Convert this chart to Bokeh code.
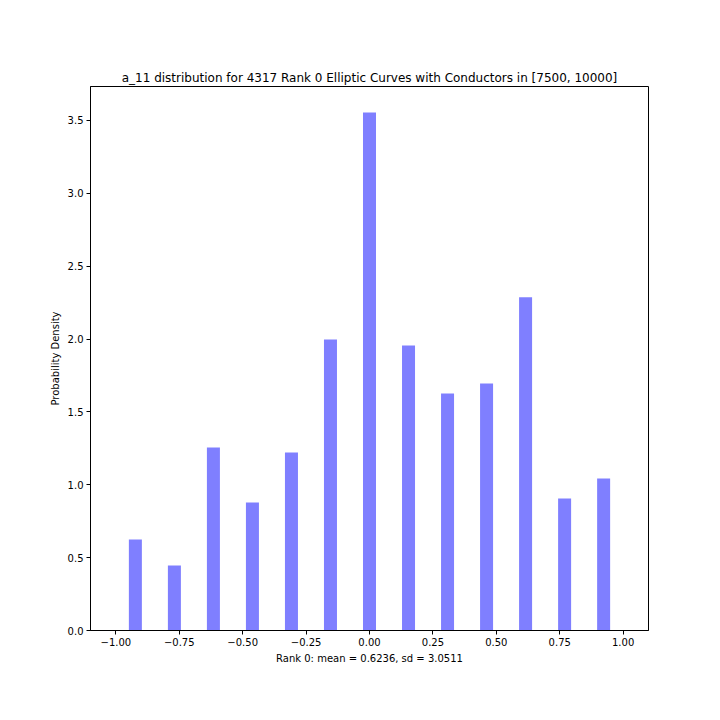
import numpy as np
from bokeh.plotting import figure
from bokeh.models import FixedTicker, CustomJSTickFormatter, ColumnDataSource, Range1d
from bokeh.embed import file_html
from bokeh.resources import INLINE

# ---- data ----
a11_values = [-6, -5, -4, -3, -2, -1, 0, 1, 2, 3, 4, 5, 6]
densities = [0.625, 0.446, 1.256, 0.879, 1.222, 1.997, 3.555,
             1.956, 1.627, 1.695, 2.286, 0.906, 1.043]
n_bins = 39
hist_range = (-1.0, 1.0)
x_ticks = [-1.0, -0.75, -0.5, -0.25, 0.0, 0.25, 0.5, 0.75, 1.0]
y_ticks = [0.0, 0.5, 1.0, 1.5, 2.0, 2.5, 3.0, 3.5]
title_text = "a_11 distribution for 4317 Rank 0 Elliptic Curves with Conductors in [7500, 10000]"
x_label = "Rank 0: mean = 0.6236, sd = 3.0511"
y_label = "Probability Density"

# normalised values a_11 / (2 sqrt 11), assigned to histogram bins
norm_vals = np.array(a11_values) / (2 * np.sqrt(11))
edges = np.linspace(hist_range[0], hist_range[1], n_bins + 1)
idx = np.digitize(norm_vals, edges) - 1
left = edges[idx]
right = edges[idx + 1]

src = ColumnDataSource(dict(left=left, right=right, top=densities,
                            bottom=[0] * len(densities)))

span = hist_range[1] - hist_range[0]
ymax = max(densities) * 1.05

p = figure(frame_width=558, frame_height=544,
           output_backend="svg", toolbar_location=None,
           x_range=Range1d(hist_range[0] - 0.05 * span, hist_range[1] + 0.05 * span),
           y_range=Range1d(0, ymax),
           min_border_left=90, min_border_top=86, min_border_right=56,
           min_border_bottom=74)

p.quad(left="left", right="right", top="top", bottom="bottom", source=src,
       fill_color="#0000ff", fill_alpha=0.5, line_color=None)

p.title.text = title_text
p.title.align = "center"
p.title.text_font = "DejaVu Sans"
p.title.text_font_size = "12px"
p.title.text_font_style = "normal"
p.title.text_color = "black"
p.title.standoff = 4

p.xgrid.visible = False
p.ygrid.visible = False
p.outline_line_color = "black"
p.outline_line_width = 1
p.outline_line_alpha = 1.0
p.background_fill_color = "white"
p.border_fill_color = "white"

p.xaxis.ticker = FixedTicker(ticks=x_ticks)
p.yaxis.ticker = FixedTicker(ticks=y_ticks)
p.xaxis.formatter = CustomJSTickFormatter(
    code="return (tick < 0 ? '\u2212' : '') + Math.abs(tick).toFixed(2);")
p.yaxis.formatter = CustomJSTickFormatter(
    code="return (tick < 0 ? '\u2212' : '') + Math.abs(tick).toFixed(1);")

for ax in (p.xaxis, p.yaxis):
    ax.major_label_text_font = "DejaVu Sans"
    ax.major_label_text_font_size = "10px"
    ax.major_label_text_color = "black"
    ax.axis_label_text_font = "DejaVu Sans"
    ax.axis_label_text_font_size = "10px"
    ax.axis_label_text_font_style = "normal"
    ax.axis_label_text_color = "black"
    ax.minor_tick_line_color = None
    ax.major_tick_in = 0
    ax.major_tick_out = 4
    ax.major_tick_line_color = "black"
    ax.axis_line_color = "black"
    ax.major_label_standoff = 3
    ax.axis_label_standoff = 4

p.xaxis.axis_label = x_label
p.yaxis.axis_label = y_label

open("out.html", "w").write(file_html(p, INLINE))
